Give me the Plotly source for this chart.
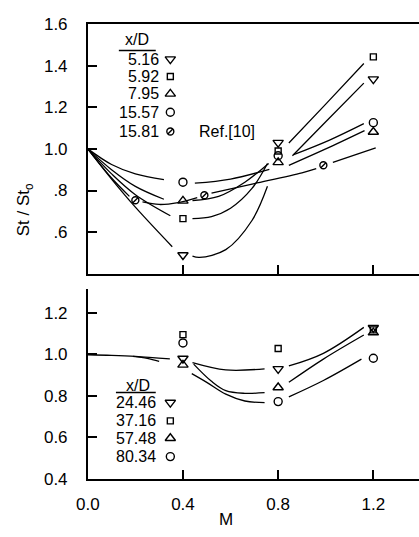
import plotly.graph_objects as go

W, H = 419, 537
FONT = "Liberation Sans, Arial, sans-serif"
INK = "black"

# ---------------- upper panel: St/St0 against blowing ratio M ----------------
m_top = [0.4, 0.8, 1.2]
st_516 = [0.49, 1.03, 1.335]     # x/D = 5.16  (triangle-down)
st_592 = [0.665, 0.99, 1.442]    # x/D = 5.92  (square)
st_795 = [0.75, 0.935, 1.081]    # x/D = 7.95  (triangle-up)
st_1557 = [0.84, 0.967, 1.126]   # x/D = 15.57 (circle)
m_ref = [0.2, 0.49, 0.99]        # x/D = 15.81, Ref.[10]
st_ref = [0.753, 0.777, 0.921]

# fitted curves, broken where they pass the symbols: list of (M, St) runs
fit_516 = [[(0, 1.0), (0.1, 0.855), (0.2, 0.72), (0.355, 0.53)],
           [(0.44, 0.485), (0.47, 0.479), (0.58, 0.516), (0.69, 0.656), (0.755, 0.82)],
           [(0.86, 0.967), (1.0, 1.13), (1.16, 1.316)]]
fit_592 = [[(0, 1.0), (0.1, 0.88), (0.2, 0.78), (0.347, 0.679)],
           [(0.44, 0.665), (0.52, 0.675), (0.6, 0.715), (0.69, 0.81), (0.755, 0.93)],
           [(0.845, 1.028), (1.0, 1.215), (1.16, 1.41)]]
fit_795 = [[(0, 1.0), (0.1, 0.9), (0.2, 0.82), (0.32, 0.758)],
           [(0.44, 0.752), (0.55, 0.772), (0.66, 0.84), (0.76, 0.93)],
           [(0.845, 0.921), (1.0, 1.0), (1.163, 1.088)]]
fit_1557 = [[(0, 1.0), (0.1, 0.925), (0.2, 0.88), (0.32, 0.852)],
            [(0.45, 0.835), (0.6, 0.855), (0.763, 0.902)],
            [(0.865, 0.972), (1.016, 1.042), (1.16, 1.121)]]
fit_ref = [[(0, 1.0), (0.1, 0.86), (0.175, 0.772)],
           [(0.23, 0.745), (0.3, 0.733), (0.38, 0.742), (0.46, 0.766)],
           [(0.52, 0.787), (0.7, 0.833), (0.9, 0.885), (0.96, 0.905)],
           [(1.03, 0.935), (1.21, 1.005)]]

# ---------------- lower panel ----------------
m_bot = [0.4, 0.8, 1.2]
st_2446 = [0.98, 0.93, 1.128]    # x/D = 24.46 (triangle-down)
st_3716 = [1.095, 1.028, 1.118]  # x/D = 37.16 (square)
st_5748 = [0.949, 0.84, 1.105]   # x/D = 57.48 (triangle-up)
st_8034 = [1.055, 0.772, 0.981]  # x/D = 80.34 (circle)

fit_lead = [[(0, 0.998), (0.1, 0.995), (0.2, 0.99), (0.345, 0.978)],
            [(0.19, 0.99), (0.25, 0.98), (0.3, 0.966)]]
fit_2446 = [[(0.44, 0.96), (0.58, 0.925), (0.743, 0.93)],
            [(0.845, 0.944), (0.99, 1.005), (1.16, 1.13)]]
fit_5748 = [[(0.445, 0.953), (0.52, 0.87), (0.58, 0.825), (0.66, 0.812), (0.743, 0.815)],
            [(0.845, 0.865), (0.99, 0.977), (1.16, 1.093)]]
fit_8034 = [[(0.437, 0.907), (0.5, 0.865), (0.58, 0.808), (0.66, 0.775), (0.743, 0.767)],
            [(0.845, 0.795), (0.99, 0.874), (1.15, 0.977)]]

# tick labels
top_ticks = [0.6, 0.8, 1.0, 1.2, 1.4, 1.6]
top_ticktext = [".6", ".8", "1.0", "1.2", "1.4", "1.6"]
bot_ticks = [0.4, 0.6, 0.8, 1.0, 1.2]
bot_ticktext = ["0.4", "0.6", "0.8", "1.0", "1.2"]
m_ticks = [0.0, 0.4, 0.8, 1.2]
m_ticktext = ["0.0", "0.4", "0.8", "1.2"]

legend_top = ["5.16", "5.92", "7.95", "15.57", "15.81"]
legend_bot = ["24.46", "37.16", "57.48", "80.34"]

# ---------------- layout geometry (pixels) ----------------
X0 = 78            # left axis
TOP_Y = (15.5, 274.5)
BOT_Y = (290, 487)
PX_PER_M = 245.0


def fy(py):
    return 1 - py / H


fig = go.Figure()


def add_fit(runs, xa, ya):
    for run in runs:
        fig.add_trace(go.Scatter(
            x=[p[0] for p in run], y=[p[1] for p in run], mode="lines",
            line=dict(color=INK, width=1.3, shape="spline", smoothing=1.0),
            xaxis=xa, yaxis=ya, hoverinfo="skip", showlegend=False))


def add_pts(xs, ys, symbol, size, xa, ya):
    fig.add_trace(go.Scatter(
        x=xs, y=ys, mode="markers",
        marker=dict(symbol=symbol, size=size, color=INK,
                    line=dict(color=INK, width=1.4)),
        xaxis=xa, yaxis=ya, showlegend=False))


def add_slashed(xs, ys, xa, ya, size=7):
    add_pts(xs, ys, "circle-open", size, xa, ya)
    add_pts(xs, ys, "line-ne-open", size - 2, xa, ya)


SYM = dict(down=("triangle-down-open", 9), sq=("square-open", 6),
           up=("triangle-up-open", 9), circ=("circle-open", 8))

# upper panel
for runs in (fit_516, fit_592, fit_795, fit_1557, fit_ref):
    add_fit(runs, "x", "y")
add_pts(m_top, st_516, *SYM["down"], "x", "y")
add_pts(m_top, st_592, *SYM["sq"], "x", "y")
add_pts(m_top, st_795, *SYM["up"], "x", "y")
add_pts(m_top, st_1557, *SYM["circ"], "x", "y")
add_slashed(m_ref, st_ref, "x", "y")

# lower panel
for runs in (fit_lead, fit_2446, fit_5748, fit_8034):
    add_fit(runs, "x2", "y2")
add_pts(m_bot, st_2446, *SYM["down"], "x2", "y2")
add_pts(m_bot, st_3716, *SYM["sq"], "x2", "y2")
add_pts(m_bot, st_5748, *SYM["up"], "x2", "y2")
add_pts(m_bot, st_8034, *SYM["circ"], "x2", "y2")

# legend keys on a full-figure pixel overlay
key_x = 163
top_rows = [52, 70, 88, 107, 127]
bot_rows = [408, 427, 445, 464]
for kind, py in zip(["down", "sq", "up", "circ"], top_rows[:4]):
    add_pts([key_x], [py], *SYM[kind], "x3", "y3")
add_slashed([key_x], [top_rows[4]], "x3", "y3")
for kind, py in zip(["down", "sq", "up", "circ"], bot_rows):
    add_pts([key_x], [py], *SYM[kind], "x3", "y3")

ann = []
for lab, py in zip(legend_top, top_rows):
    ann.append(dict(x=153 / W, y=fy(py), text=lab, xanchor="right", yanchor="middle", size=16))
for lab, py in zip(legend_bot, bot_rows):
    ann.append(dict(x=150 / W, y=fy(py), text=lab, xanchor="right", yanchor="middle", size=16))
ann.append(dict(x=129 / W, y=fy(32), text="x/D", xanchor="center", yanchor="middle", size=16))
ann.append(dict(x=130 / W, y=fy(390), text="x/D", xanchor="center", yanchor="middle", size=16))
ann.append(dict(x=190 / W, y=fy(127), text="Ref.[10]", xanchor="left", yanchor="middle", size=16))
ann.append(dict(x=220 / W, y=fy(529), text="M", xanchor="center", yanchor="middle", size=17))
ann.append(dict(x=13 / W, y=fy(208), text="St / St<sub>o</sub>", textangle=-90,
                xanchor="center", yanchor="middle", size=17))
for a in ann:
    fs = a.pop("size")
    a.update(xref="paper", yref="paper", showarrow=False,
             font=dict(family=FONT, size=fs, color=INK))

shapes = [
    dict(type="line", xref="paper", yref="paper", x0=110 / W, x1=148 / W,
         y0=fy(43), y1=fy(43), line=dict(color=INK, width=1.4)),
    dict(type="line", xref="paper", yref="paper", x0=107 / W, x1=148 / W,
         y0=fy(397.5), y1=fy(397.5), line=dict(color=INK, width=1.4)),
]

x_range = [0, (W - X0) / PX_PER_M]
axis_common = dict(showline=True, linecolor=INK, linewidth=1.6, ticks="inside",
                   ticklen=9, tickwidth=1.5, tickcolor=INK, showgrid=False,
                   zeroline=False, tickfont=dict(family=FONT, size=17, color=INK))

fig.update_layout(
    width=W, height=H, margin=dict(l=0, r=0, t=0, b=0),
    paper_bgcolor="white", plot_bgcolor="rgba(0,0,0,0)",
    showlegend=False, annotations=ann, shapes=shapes,
    xaxis=dict(domain=[X0 / W, 1], range=x_range, anchor="y", mirror=True,
               tickvals=[0.4, 0.8, 1.2], showticklabels=False, **axis_common),
    yaxis=dict(domain=[fy(TOP_Y[1]), fy(TOP_Y[0])], range=[0.4, 1.6], anchor="x",
               tickvals=top_ticks, ticktext=top_ticktext, ticklabelstandoff=15,
               **axis_common),
    xaxis2=dict(domain=[X0 / W, 1], range=x_range, anchor="y2",
                tickvals=m_ticks, ticktext=m_ticktext, ticklabelstandoff=9,
                **axis_common),
    yaxis2=dict(domain=[fy(BOT_Y[1]), fy(BOT_Y[0])], range=[0.4, (0.4 + (BOT_Y[1] - BOT_Y[0]) / 215)],
                anchor="x2", tickvals=bot_ticks, ticktext=bot_ticktext,
                ticklabelstandoff=15, **axis_common),
    xaxis3=dict(domain=[0, 1], range=[0, W], anchor="y3", visible=False),
    yaxis3=dict(domain=[0, 1], range=[H, 0], anchor="x3", visible=False),
)

fig.write_html("out.html")
